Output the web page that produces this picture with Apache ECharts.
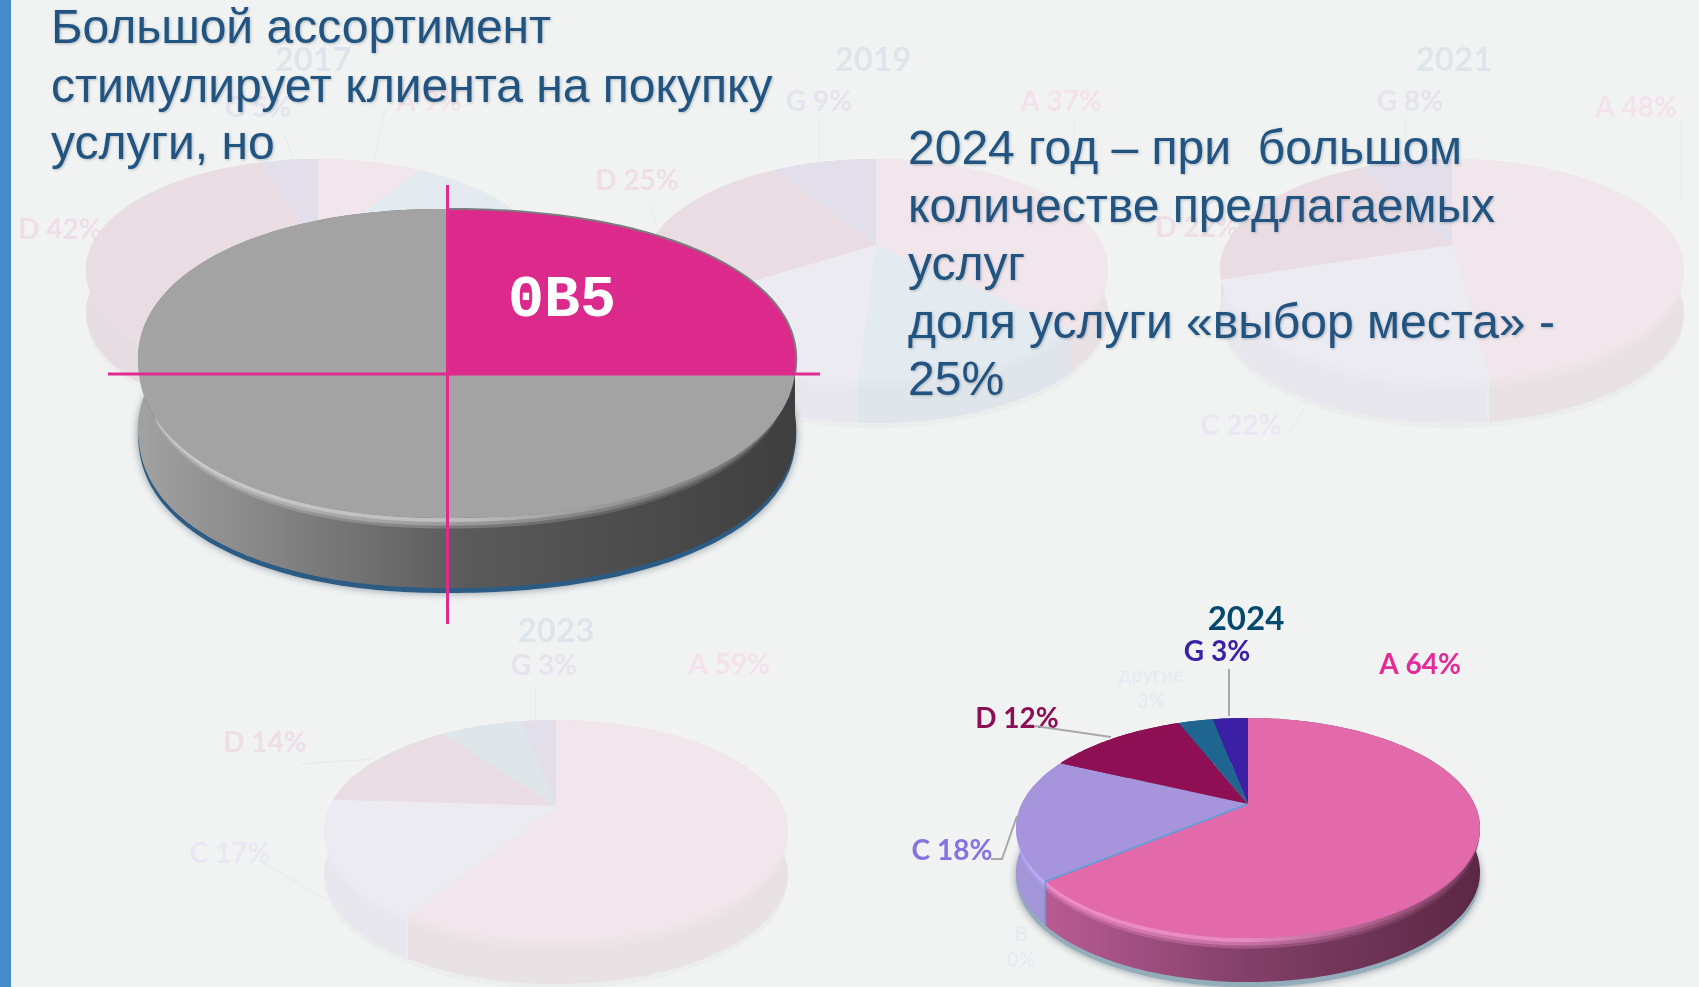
<!DOCTYPE html>
<html><head><meta charset="utf-8">
<style>html,body{margin:0;padding:0;background:#F1F3F2}#c{width:1699px;height:987px}</style>
<script src="https://cdn.jsdelivr.net/npm/echarts@6/dist/echarts.min.js"></script>
</head><body><div id="c"></div>
<script>
// ---- data (shares clockwise from 12 o'clock) ----
const years = ['2017', '2019', '2021', '2023', '2024'];
const categories = ['A', 'B', 'C', 'D', 'другие', 'G'];
const values2017 = [9, 20, 24, 42, 0, 5];
const values2019 = [37, 14, 15, 25, 0, 9];
const values2021 = [48, 0, 22, 22, 0, 8];
const values2023 = [59, 0, 17, 14, 7, 3];
const values2024 = [64, 0, 18, 12, 3, 3];
const accentValues = [25, 75];
const accentLabel = '0В5';

const titleLines = ['Большой ассортимент', 'стимулирует клиента на покупку', 'услуги, но'];
const noteLines = ['2024 год – при  большом', 'количестве предлагаемых', 'услуг', 'доля услуги «выбор места» -', '25%'];

// ---- styles ----
const fadedFace = ['#F1E6EB', '#E3EAF0', '#ECEBF2', '#E9DDE3', '#DFE6EA', '#E2DFEB'];
const fadedWall = ['#E9E2E5', '#DFE5EA', '#E8E7ED', '#E6DDE2', '#DDE3E7', '#DEDCE6'];
const fadedRim = ['#EFE5E9', '#E2E9EE', '#EBEAF1', '#E9E0E5', '#DFE6EA', '#E2DFEB'];
const liveFace = ['#E26AAB', '#5AA0D8', '#A695DC', '#8E0F54', '#1E668F', '#3B1FA5'];
const liveWall = [['#C2609A', '#824068', '#5A2743'], ['#5AA0D8', '#5AA0D8', '#5AA0D8'], ['#A295D8', '#A295D8', '#A295D8'], ['#6E0A40', '#6E0A40', '#6E0A40'], ['#155070', '#155070', '#155070'], ['#2A1680', '#2A1680', '#2A1680']];
const liveRim = [['#F590CC', '#F090C8', '#7A3C60'], ['#5AA0D8', '#5AA0D8', '#5AA0D8'], ['#BDADFA', '#BDADFA', '#BDADFA'], ['#6E0A40', '#6E0A40', '#6E0A40'], ['#155070', '#155070', '#155070'], ['#2A1680', '#2A1680', '#2A1680']];
const solid = c => [c, c, c];

const geom = {S: 104.8, k: 0.2183, rl: 226.4, rr: 226.4, depth: 44, round: 1};
const pies = [
  {values: values2017, ax: 318, ay: 245, face: fadedFace, wall: fadedWall.map(solid), rim: fadedRim.map(solid), base: '#ECEEEE', seam: null, z: 1},
  {values: values2019, ax: 876, ay: 245, face: fadedFace, wall: fadedWall.map(solid), rim: fadedRim.map(solid), base: '#ECEEEE', seam: null, z: 1},
  {values: values2021, ax: 1452, ay: 245, face: fadedFace, wall: fadedWall.map(solid), rim: fadedRim.map(solid), base: '#ECEEEE', seam: '#E8EEF1', z: 1},
  {values: values2023, ax: 556, ay: 806, face: fadedFace, wall: fadedWall.map(solid), rim: fadedRim.map(solid), base: '#ECEEEE', seam: '#E6EEF1', z: 1},
  {values: values2024, ax: 1248, ay: 804, face: liveFace, wall: liveWall, rim: liveRim, base: '#93ADBB', seam: '#5AA0D8', z: 3}
];
const accentPie = {values: accentValues, ax: 447, ay: 374, S: 153.8, k: -0.068, rl: 308, rr: 348, depth: 70, round: 0.93,
  face: ['#DC2A8C', '#A3A3A3'], wall: [['#A4A4A4', '#5A5A5A', '#3E3E3E'], ['#A4A4A4', '#5A5A5A', '#3E3E3E']],
  rim: [['#D0D0D0', '#C4C4C4', '#6A6A6A'], ['#D0D0D0', '#C4C4C4', '#6A6A6A']],
  base: '#2C5B84', seam: null, edge: '#7C7C7C', z: 6};

const ink = '#215480';
const labelFont = 'Lato, "Noto Sans", sans-serif';

function point(p, theta, drop, inset) {
  const s = Math.sin(theta), c = Math.cos(theta);
  const u = Math.sign(s) * Math.pow(Math.abs(s), p.round), v = -Math.sign(c) * Math.pow(Math.abs(c), p.round);
  const d = 1 - p.k * v;
  const R = u < 0 ? p.rl : p.rr;
  return [p.ax + (inset || 1) * R * u / d, p.ay + p.S * v / d + (drop || 0)];
}
function arc(p, a, b, drop, inset) {
  const n = Math.max(2, Math.ceil((b - a) / 0.02));
  const pts = [];
  for (let i = 0; i <= n; i++) pts.push(point(p, a + (b - a) * i / n, drop, inset));
  return pts;
}
function hGrad(p, stops) {
  const x0 = point(p, -Math.PI / 2)[0] - 10, x1 = point(p, Math.PI / 2)[0] + 10;
  return {type: 'linear', x: x0, y: 0, x2: x1, y2: 0, global: true,
    colorStops: stops.map((c, i) => ({offset: i / (stops.length - 1), color: c}))};
}
function pieSeries(cfg) {
  const p = Object.assign({}, geom, cfg);
  const total = p.values.reduce((a, b) => a + b, 0);
  let run = 0;
  const rows = p.values.map((v, i) => { const r = [run, run + v, i]; run += v; return r; });
  return {
    type: 'custom', coordinateSystem: 'none', z: p.z, silent: true, animation: false,
    data: rows,
    renderItem(params, api) {
      const a = api.value(0) / total * 2 * Math.PI, b = api.value(1) / total * 2 * Math.PI, i = api.value(2);
      const children = [];
      if (params.dataIndex === 0) {
        const full = arc(p, 0, 2 * Math.PI, p.depth + 5);
        children.push({type: 'polygon', z2: 0, shape: {points: full},
          style: {fill: p.base, shadowBlur: p.z > 1 ? 8 : 0, shadowColor: 'rgba(30,50,70,0.5)'}});
      }
      if (b - a > 1e-6) {
        const top = arc(p, a, b, 0);
        const low = arc(p, a, b, p.depth).reverse();
        children.push({type: 'polygon', z2: 1, shape: {points: top.concat(low)},
          style: {fill: hGrad(p, p.wall[i])}});
        children.push({type: 'polygon', z2: 4, shape: {points: [[p.ax, p.ay]].concat(top)},
          style: {fill: p.face[i]}});
        // soft bevel along the front rim, kept inside the outline
        const fa = Math.max(a, Math.PI / 2 + 0.25), fb = Math.min(b, 3 * Math.PI / 2 - 0.25);
        if (fb > fa) {
          children.push({type: 'polyline', z2: 2, shape: {points: arc(p, fa, fb, 5, 0.975)},
            style: {fill: null, lineWidth: 11, stroke: hGrad(p, p.rim[i]), opacity: 0.3}});
          children.push({type: 'polyline', z2: 2, shape: {points: arc(p, fa, fb, 4, 0.98)},
            style: {fill: null, lineWidth: 7, stroke: hGrad(p, p.rim[i]), opacity: 0.45}});
          children.push({type: 'polyline', z2: 3, shape: {points: arc(p, fa, fb, 2, 0.99)},
            style: {fill: null, lineWidth: 4, stroke: hGrad(p, p.rim[i]), opacity: 0.8}});
        }
        if (p.edge && i === 0) {
          children.push({type: 'polyline', z2: 5, shape: {points: top},
            style: {fill: null, stroke: p.edge, lineWidth: 2}});
        }
        if (p.seam && i === 0) {
          const e = point(p, b, 0), f = point(p, b, p.depth);
          children.push({type: 'polyline', z2: 5, shape: {points: [[p.ax, p.ay], e, f]},
            style: {fill: null, stroke: p.seam, lineWidth: 1.5}});
        }
      }
      return {type: 'group', children};
    }
  };
}

function txt(text, x, y, size, fill, z) {
  return {type: 'text', z: z, silent: true, style: {
    text, x, y: y + (size >= 30 ? 3 : 2), fill, font: 'bold ' + size + 'px ' + labelFont, align: 'center', verticalAlign: 'middle'}};
}
function line(points, stroke, z, w) {
  return {type: 'polyline', z: z, silent: true, shape: {points}, style: {fill: null, stroke, lineWidth: w || 1}};
}
const fadeLine = '#E8EAEA';
const gTitle = '#DEE5EA', gG = '#E5E3EE', gA = '#F3E2EA', gD = '#EEDFE6', gC = '#E9E7F3', gO = '#E4ECF1';
const T = 33, L = 28;
const graphics = [
  {type: 'rect', z: 20, silent: true, shape: {x: 0, y: 0, width: 11, height: 987}, style: {fill: '#468BCB'}},
  // 2017
  txt(years[0], 313, 57, T, gTitle, 1), txt('G 5%', 258, 106, L, gG, 1), txt('A 9%', 429, 100, L, gA, 1), txt('D 42%', 60, 228, L, gD, 1),
  line([[284, 134], [293, 158]], fadeLine, 1), line([[385, 111], [374, 160]], fadeLine, 1),
  // 2019
  txt(years[1], 873, 57, T, gTitle, 1), txt('G 9%', 819, 100, L, gG, 1), txt('A 37%', 1061, 100, L, gA, 1), txt('D 25%', 637, 179, L, gD, 1),
  line([[819, 117], [819, 158]], fadeLine, 1), line([[1074, 117], [1074, 162]], fadeLine, 1), line([[650, 203], [657, 227]], fadeLine, 1),
  // 2021
  txt(years[2], 1454, 57, T, gTitle, 1), txt('G 8%', 1410, 100, L, gG, 1), txt('A 48%', 1636, 106, L, gA, 1), txt('D 22%', 1197, 226, L, gD, 1), txt('C 22%', 1241, 424, L, gC, 1),
  line([[1405, 117], [1405, 158]], fadeLine, 1), line([[1681, 117], [1681, 200]], fadeLine, 1), line([[1288, 433], [1305, 408]], fadeLine, 1),
  // 2023
  txt(years[3], 556, 628, T, gTitle, 1), txt('G 3%', 544, 664, L, gG, 1), txt('A 59%', 729, 663, L, gA, 1), txt('D 14%', 265, 741, L, gD, 1), txt('C 17%', 230, 852, L, gC, 1),
  line([[535.5, 687], [535.5, 718]], fadeLine, 1), line([[300, 764], [373, 759]], fadeLine, 1), line([[258, 860], [330, 902]], fadeLine, 1),
  // 2024
  txt(years[4], 1246, 616, T, '#05496E', 8), txt('G 3%', 1217, 650, L, '#3B1FA5', 8), txt('A 64%', 1420, 663, L, '#E42B97', 8),
  txt('D 12%', 1017, 717, L, '#8B0F56', 8), txt('C 18%', 952, 849, L, '#8772E0', 8),
  txt('другие', 1151, 674, 20, gO, 8), txt('3%', 1151, 700, 20, gO, 8), txt('В', 1021, 933, 20, gO, 8), txt('0%', 1021, 959, 20, gO, 8),
  line([[1229, 669], [1229, 716]], '#A8A8A8', 8, 2), line([[1035, 726], [1111, 737]], '#A8A8A8', 8, 2), line([[991, 859], [1002, 859], [1017, 816]], '#A8A8A8', 8, 2),
  // accent cross and label
  line([[447.5, 185], [447.5, 624]], '#DF2A90', 9, 3), line([[108, 374], [820, 374]], '#DF2A90', 9, 3),
  {type: 'text', z: 9, silent: true, style: {text: accentLabel, x: 562, y: 301, fill: '#FFFFFF', align: 'center', verticalAlign: 'middle',
    font: 'bold 60px "Liberation Mono", monospace'}}
];
const ys1 = [30, 89, 146], ys2 = [151, 209, 267, 325, 382];
const bodyStyle = {font: '48px "Liberation Sans", Arial, sans-serif', fill: ink, verticalAlign: 'middle', align: 'left',
  textShadowColor: 'rgba(30,50,70,0.3)', textShadowBlur: 3, textShadowOffsetX: 1, textShadowOffsetY: 1};
titleLines.forEach((t, i) => graphics.push({type: 'text', z: 12, silent: true, style: Object.assign({text: t, x: 51, y: ys1[i]}, bodyStyle)}));
noteLines.forEach((t, i) => graphics.push({type: 'text', z: 12, silent: true, style: Object.assign({text: t, x: 908, y: ys2[i]}, bodyStyle)}));

const chart = echarts.init(document.getElementById('c'), null, {renderer: 'canvas'});
chart.setOption({
  backgroundColor: '#F1F3F2',
  animation: false,
  series: pies.concat([accentPie]).map(pieSeries),
  graphic: graphics
});
</script></body></html>
